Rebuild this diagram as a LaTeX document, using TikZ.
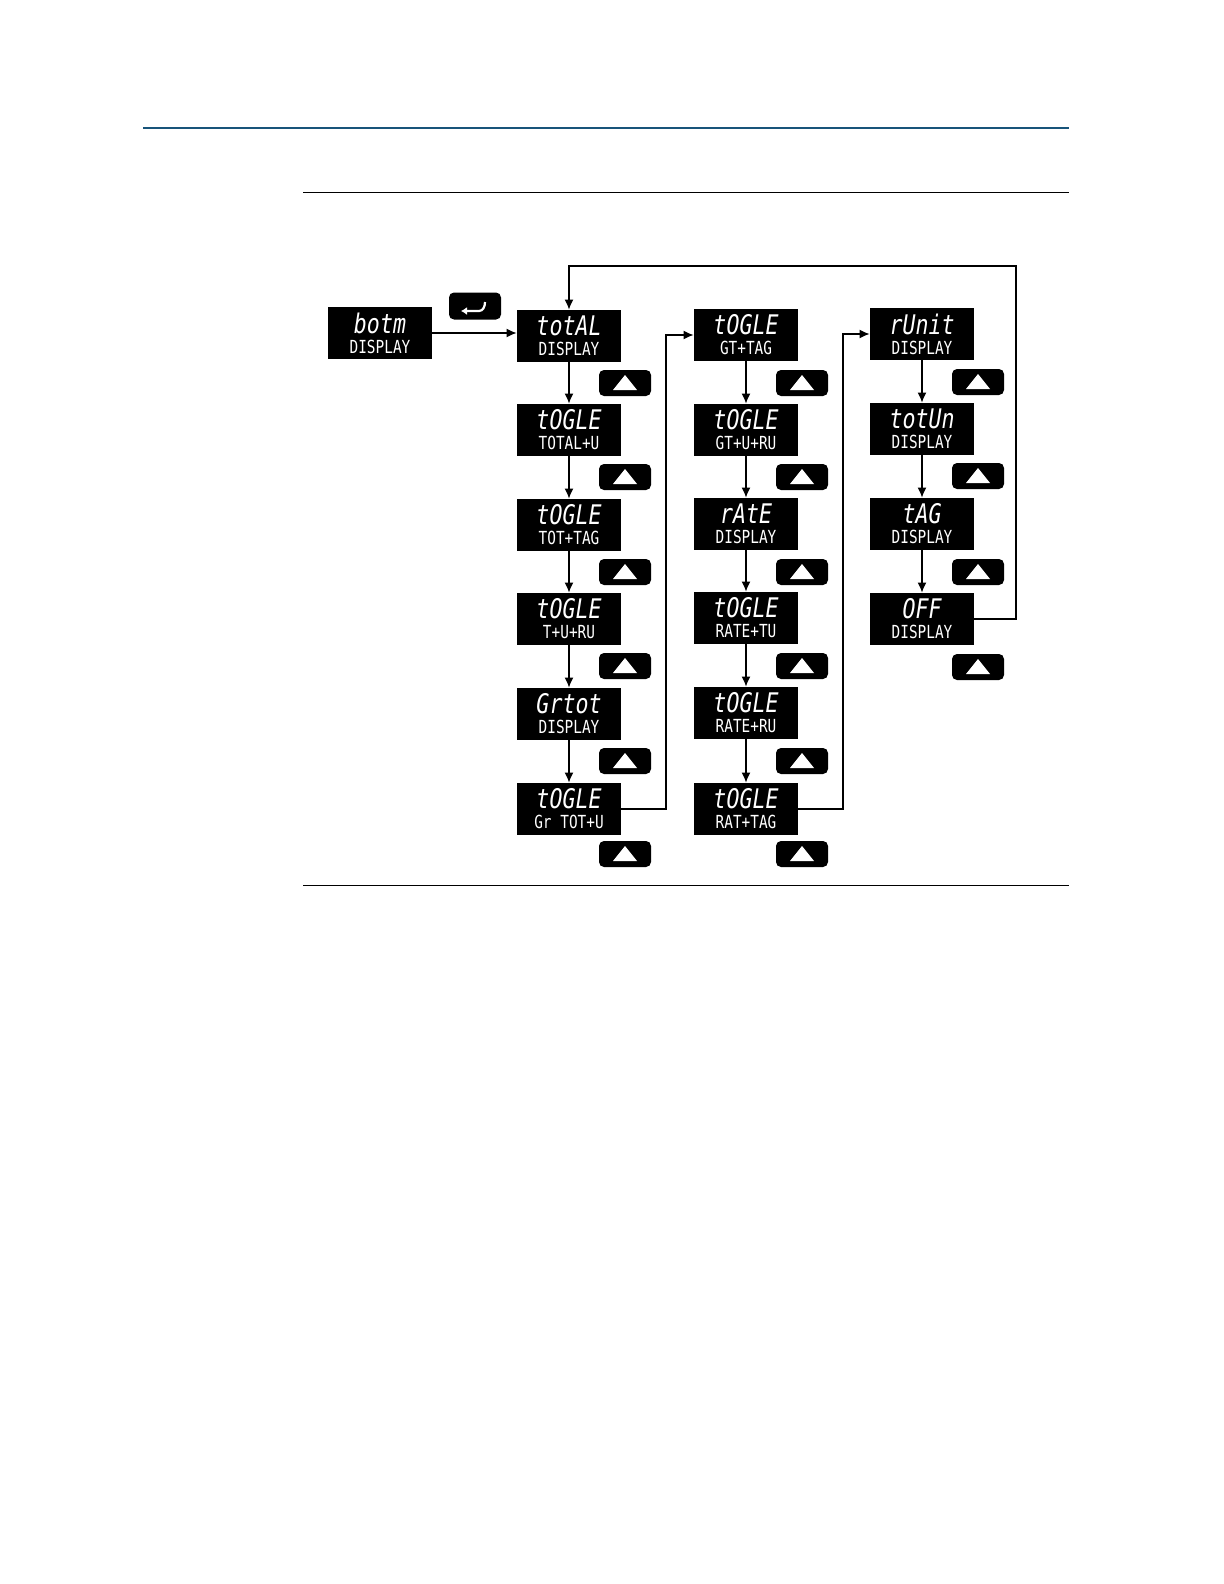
\documentclass[tikz,border=0pt]{standalone}
\usepackage{fontspec}
\newfontfamily\segfont[FakeStretch=0.8]{DejaVu Sans Mono}
\usetikzlibrary{%
        arrows.meta,
        positioning}
\definecolor{ruleblue}{RGB}{24,84,122}
\newcommand{\lcdtext}[2]{%
    {\itshape\fontsize{13.5}{10}\selectfont #1}\\%
    {\fontsize{9}{9}\selectfont #2}}
\tikzset{%
    lcd/.style={fill=black, text=white, minimum width=52pt,
        minimum height=26pt, inner sep=0pt, align=center,
        font=\segfont\fontsize{9}{10}\selectfont},
    flow/.style={-{Latex[length=5pt, width=4.5pt]}, line width=0.7pt},
    upkey/.pic={code{%
    \fill[black, rounded corners=2.5pt] (-26, -13) rectangle (26, 13);
    \fill[white] (-12, 7) -- (12, 7) -- (0, -8) -- cycle;
    }}
}

\begin{document}
\begin{tikzpicture}[x=0.5pt, y=-0.5pt]

    \useasboundingbox (0, 0) rectangle (1224, 1584);

    \draw[ruleblue, line width=0.6pt] (143, 128) -- (1069, 128);
    \draw[line width=0.5pt] (303, 192) -- (1069, 192);
    \draw[line width=0.5pt] (303, 885) -- (1069, 885);

    % first column
    \node[lcd] (botm) at (380, 333) {\lcdtext{botm}{DISPLAY}};
    \node[lcd] (total) at (569, 336) {\lcdtext{totAL}{DISPLAY}};
    \node[lcd] (togTU) at (569, 430) {\lcdtext{tOGLE}{TOTAL+U}};
    \node[lcd] (togTT) at (569, 525) {\lcdtext{tOGLE}{TOT+TAG}};
    \node[lcd] (togTUR) at (569, 619) {\lcdtext{tOGLE}{T+U+RU}};
    \node[lcd] (grtot) at (569, 714) {\lcdtext{Grtot}{DISPLAY}};
    \node[lcd] (togGTU) at (569, 809) {\lcdtext{tOGLE}{Gr TOT+U}};

    % second column
    \node[lcd] (togGTT) at (746, 335) {\lcdtext{tOGLE}{GT+TAG}};
    \node[lcd] (togGUR) at (746, 430) {\lcdtext{tOGLE}{GT+U+RU}};
    \node[lcd] (rate) at (746, 524) {\lcdtext{rAtE}{DISPLAY}};
    \node[lcd] (togRTU) at (746, 618) {\lcdtext{tOGLE}{RATE+TU}};
    \node[lcd] (togRRU) at (746, 713) {\lcdtext{tOGLE}{RATE+RU}};
    \node[lcd] (togRTT) at (746, 809) {\lcdtext{tOGLE}{RAT+TAG}};

    % third column
    \node[lcd] (runit) at (922, 334) {\lcdtext{rUnit}{DISPLAY}};
    \node[lcd] (totun) at (922, 429) {\lcdtext{totUn}{DISPLAY}};
    \node[lcd] (tag) at (922, 524) {\lcdtext{tAG}{DISPLAY}};
    \node[lcd] (off) at (922, 619) {\lcdtext{OFF}{DISPLAY}};

    % keys
    \node[fill=black, rounded corners=2.5pt, minimum width=26pt,
        minimum height=13.5pt, inner sep=0pt] (enter) at (475, 306) {};
    \draw[white, line width=1.1pt, -{Latex[length=3pt, width=4pt]}]
        ([shift={(10, -4)}] enter.center) to [out=270, in=0]
        ([shift={(4, 5)}] enter.center) -- ([shift={(-14, 5)}] enter.center);
    \foreach \y in {383, 477, 572, 666, 761, 854}{%
        \path (625, \y) pic {upkey};
        \path (802, \y) pic {upkey};
    };
    \foreach \y in {382, 476, 572, 667}{%
        \path (978, \y) pic {upkey};
    };

    % connectors
    \coordinate (loop) at (1016, 266);
    \coordinate (jumpA) at (666, 560);
    \coordinate (jumpB) at (843, 560);

    \draw[flow] (botm.east) -- (botm.east -| total.west);
    \foreach \a/\b in {total/togTU, togTU/togTT, togTT/togTUR, togTUR/grtot,
        grtot/togGTU, togGTT/togGUR, togGUR/rate, rate/togRTU,
        togRTU/togRRU, togRRU/togRTT, runit/totun, totun/tag, tag/off}{%
        \draw[flow] (\a) -- (\b);
    };
    \draw[flow] (togGTU.east) -| (jumpA) |- (togGTT.west);
    \draw[flow] (togRTT.east) -| (jumpB) |- (runit.west);
    \draw[flow] (off.east) -| (loop) -| (total.north);

\end{tikzpicture}
\end{document}
